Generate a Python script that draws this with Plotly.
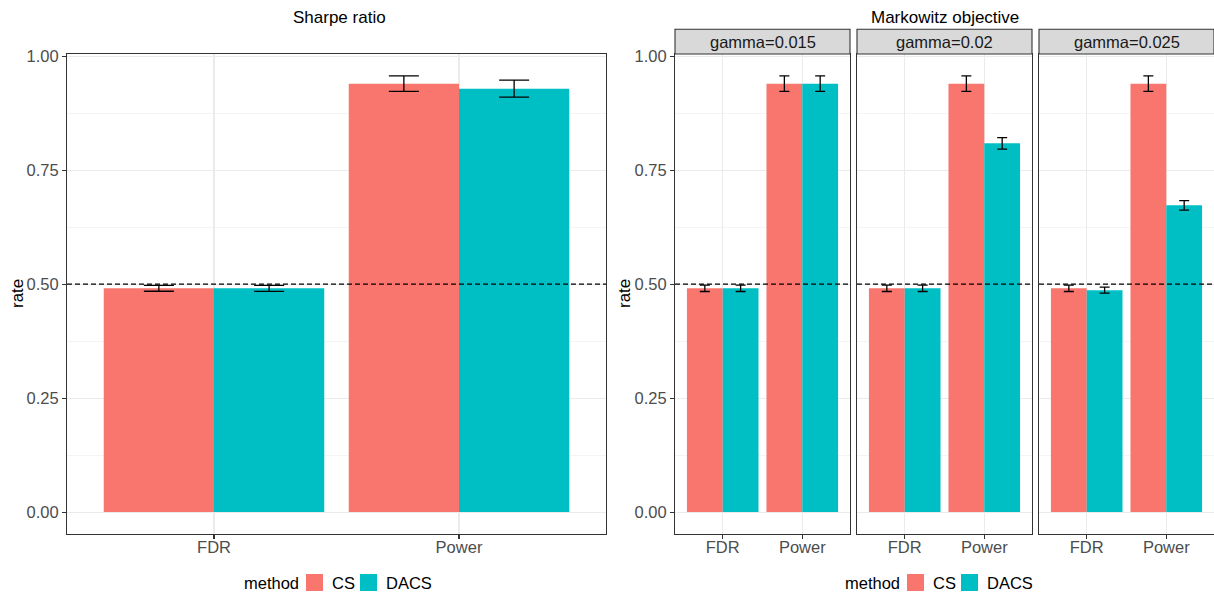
import plotly.graph_objects as go

W, H = 1214, 594

# ---------------- data ----------------
metrics = ["FDR", "Power"]
methods = ["CS", "DACS"]
method_colors = ["#F8766D", "#00BFC4"]

# Sharpe ratio panel
sharpe_cs = [0.491, 0.940]
sharpe_cs_se = [0.0065, 0.0172]
sharpe_dacs = [0.491, 0.929]
sharpe_dacs_se = [0.0066, 0.0185]

# Markowitz objective facets
gammas = ["gamma=0.015", "gamma=0.02", "gamma=0.025"]
mk_cs_fdr = [0.491, 0.491, 0.491]
mk_cs_fdr_se = [0.007, 0.007, 0.007]
mk_cs_power = [0.940, 0.940, 0.940]
mk_cs_power_se = [0.017, 0.017, 0.017]
mk_dacs_fdr = [0.491, 0.491, 0.487]
mk_dacs_fdr_se = [0.007, 0.007, 0.0065]
mk_dacs_power = [0.940, 0.809, 0.673]
mk_dacs_power_se = [0.017, 0.0125, 0.0105]

ytick_vals = [0, 0.25, 0.5, 0.75, 1.0]
ytick_text = ["0.00", "0.25", "0.50", "0.75", "1.00"]
yminor_vals = [0.125, 0.375, 0.625, 0.875]
ref_line = 0.5

# ---------------- layout helpers ----------------
FONT = "Liberation Sans, Arial, Helvetica, sans-serif"
def fx(p): return p / W
def fy(p): return 1 - p / H

panel_top, panel_bot = 54, 534
yrange = [-0.048, 1.005]
left_dom = (67, 606)
facet_doms = [(675, 850), (857, 1032), (1039, 1214)]
strip_top = 29.3

fig = go.Figure()

def add_bars(axis_idx, cs_vals, cs_se, dacs_vals, dacs_se, whisker):
    xa = "x" if axis_idx == 1 else f"x{axis_idx}"
    ya = "y" if axis_idx == 1 else f"y{axis_idx}"
    for name, col, vals, se in [("CS", method_colors[0], cs_vals, cs_se),
                                ("DACS", method_colors[1], dacs_vals, dacs_se)]:
        fig.add_trace(go.Bar(
            x=metrics, y=vals, name=name, marker=dict(color=col, line=dict(width=0)),
            error_y=dict(type="data", array=se, visible=True, color="black",
                         thickness=1.3, width=whisker),
            xaxis=xa, yaxis=ya, showlegend=False, offsetgroup=name,
        ))

add_bars(1, sharpe_cs, sharpe_cs_se, sharpe_dacs, sharpe_dacs_se, 15)
for i in range(3):
    add_bars(i + 2,
             [mk_cs_fdr[i], mk_cs_power[i]], [mk_cs_fdr_se[i], mk_cs_power_se[i]],
             [mk_dacs_fdr[i], mk_dacs_power[i]], [mk_dacs_fdr_se[i], mk_dacs_power_se[i]],
             5)

def xaxis_style(dom, anchor):
    return dict(domain=[fx(dom[0]), fx(dom[1])], anchor=anchor, type="category",
                categoryorder="array", categoryarray=metrics, range=[-0.6, 1.6],
                showgrid=True, gridcolor="#EBEBEB", gridwidth=1.1,
                showline=True, mirror=True, linecolor="#333333", linewidth=1.1,
                ticks="outside", ticklen=4, tickcolor="#333333", tickwidth=1.1,
                ticklabelstandoff=-6,
                tickfont=dict(family=FONT, size=16.5, color="#4D4D4D"),
                zeroline=False, fixedrange=True, automargin=False)

def yaxis_style(anchor, labels=True):
    d = dict(domain=[fy(panel_bot), fy(panel_top)], anchor=anchor, range=yrange,
             tickvals=ytick_vals, ticktext=ytick_text,
             showgrid=True, gridcolor="#EBEBEB", gridwidth=1.1,
             minor=dict(tickvals=yminor_vals, showgrid=True, gridcolor="#EBEBEB",
                        gridwidth=0.55, ticks=""),
             showline=True, mirror=True, linecolor="#333333", linewidth=1.1,
             zeroline=False, fixedrange=True, automargin=False,
             tickfont=dict(family=FONT, size=16.5, color="#4D4D4D"))
    if labels:
        d.update(ticks="outside", ticklen=4, tickcolor="#333333", tickwidth=1.1,
                 showticklabels=True)
    else:
        d.update(ticks="", showticklabels=False)
    return d

layout_axes = {}
layout_axes["xaxis"] = xaxis_style(left_dom, "y")
layout_axes["yaxis"] = yaxis_style("x", True)
for i, dom in enumerate(facet_doms):
    k = i + 2
    layout_axes[f"xaxis{k}"] = xaxis_style(dom, f"y{k}")
    layout_axes[f"yaxis{k}"] = yaxis_style(f"x{k}", labels=(i == 0))

shapes = []
annotations = []

# reference dashed lines
for k in ["", "2", "3", "4"]:
    shapes.append(dict(type="line", xref=f"x{k} domain", yref=f"y{k}",
                       x0=0, x1=1, y0=ref_line, y1=ref_line,
                       line=dict(color="black", width=1.2, dash="5px,3px"), layer="above"))

# facet strips
for dom, g in zip(facet_doms, gammas):
    shapes.append(dict(type="rect", xref="paper", yref="paper",
                       x0=fx(dom[0]), x1=fx(dom[1]), y0=fy(panel_top), y1=fy(strip_top),
                       fillcolor="#D9D9D9", line=dict(color="#333333", width=1.1), layer="above"))
    annotations.append(dict(text=g, xref="paper", yref="paper",
                            x=fx((dom[0] + dom[1]) / 2), y=fy((strip_top + panel_top) / 2),
                            showarrow=False, xanchor="center", yanchor="middle",
                            font=dict(family=FONT, size=16.5, color="#1A1A1A")))

# titles
annotations.append(dict(text="Sharpe ratio", xref="paper", yref="paper",
                        x=fx(339), y=fy(17), showarrow=False, xanchor="center",
                        yanchor="middle", font=dict(family=FONT, size=17, color="black")))
annotations.append(dict(text="Markowitz objective", xref="paper", yref="paper",
                        x=fx(945), y=fy(17), showarrow=False, xanchor="center",
                        yanchor="middle", font=dict(family=FONT, size=17, color="black")))

# y axis titles
for xpos in [17, 624]:
    annotations.append(dict(text="rate", xref="paper", yref="paper",
                            x=fx(xpos), y=fy((panel_top + panel_bot) / 2), showarrow=False,
                            textangle=-90, xanchor="center", yanchor="middle",
                            font=dict(family=FONT, size=17, color="black")))

# legends
def add_legend(offset):
    yc = 583
    annotations.append(dict(text="method", xref="paper", yref="paper",
                            x=fx(242 + offset), y=fy(yc), showarrow=False,
                            xanchor="left", yanchor="middle",
                            font=dict(family=FONT, size=16.5, color="black")))
    sw = [(306, 330), (360, 384)]
    for (sx, tx), m, c in zip(sw, methods, method_colors):
        shapes.append(dict(type="rect", xref="paper", yref="paper",
                           x0=fx(sx + offset), x1=fx(sx + 17 + offset),
                           y0=fy(591), y1=fy(574), fillcolor=c, line=dict(width=0)))
        annotations.append(dict(text=m, xref="paper", yref="paper",
                                x=fx(tx + offset), y=fy(yc), showarrow=False,
                                xanchor="left", yanchor="middle",
                                font=dict(family=FONT, size=16.5, color="black")))

add_legend(0)
add_legend(601)

fig.update_layout(
    width=W, height=H, autosize=False,
    margin=dict(l=0, r=0, t=0, b=0, pad=0),
    paper_bgcolor="white", plot_bgcolor="white",
    barmode="group", bargap=0.1, bargroupgap=0,
    showlegend=False,
    font=dict(family=FONT, size=16, color="black"),
    shapes=shapes, annotations=annotations,
    **layout_axes,
)

fig.write_html("out.html",
               config={"displayModeBar": False, "staticPlot": True},
               post_script="document.body.style.margin='0';document.body.style.overflow='hidden';")
